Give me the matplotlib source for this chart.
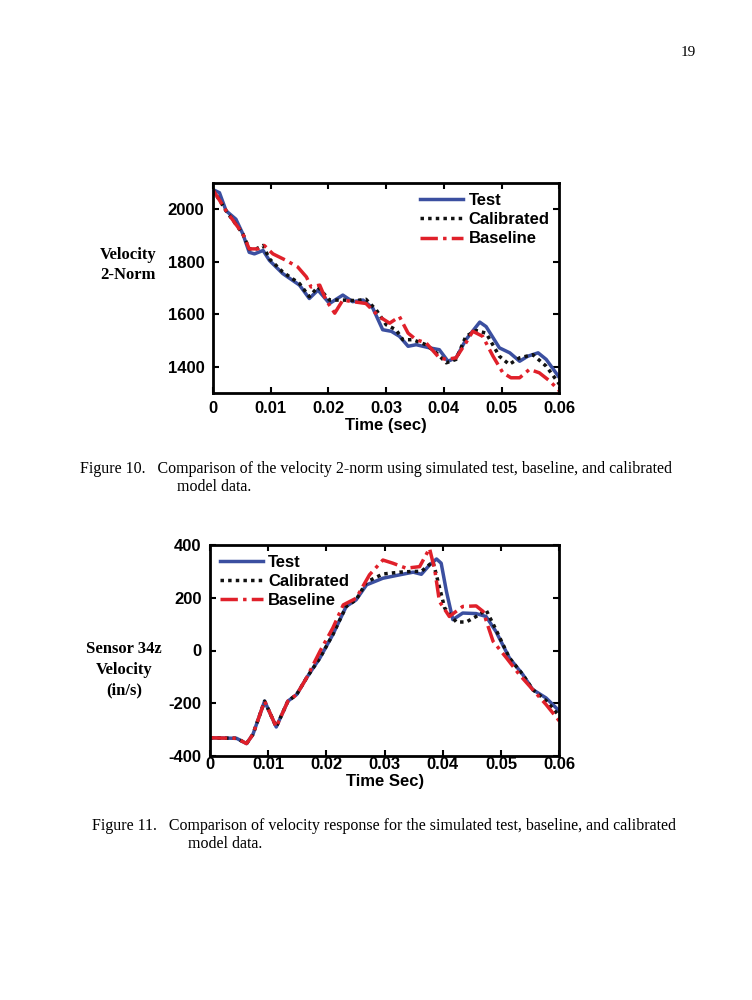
import matplotlib
matplotlib.use("Agg")
import matplotlib.pyplot as plt
plt.rcParams["axes.unicode_minus"] = False

# ---- Figure 10 data: velocity 2-norm ----
t1_test = [0,.00115,.0023,.004,.0052,.0063,.0072,.0087,.0098,.0121,.015,.0167,.0182,.0202,.0225,.0242,.026,.0277,.0294,.0309,.0323,.0338,.0352,.0375,.0392,.0407,.0421,.0438,.0462,.0473,.0496,.0514,.0531,.0545,.0563,.0577,.06]
v1_test = [2075,2063,1994,1962,1906,1836,1830,1843,1805,1755,1711,1660,1692,1641,1673,1648,1654,1623,1541,1535,1516,1478,1484,1472,1465,1421,1434,1503,1570,1553,1472,1453,1421,1440,1453,1428,1358]
t1_cal = [0,.0023,.0052,.0063,.0075,.0087,.0098,.0121,.015,.0167,.0182,.0202,.0225,.0248,.0265,.0283,.03,.0317,.0329,.0346,.0369,.0387,.0404,.0421,.0438,.0456,.0473,.0496,.0513,.0531,.0554,.0577,.06]
v1_cal = [2075,1994,1906,1849,1849,1862,1811,1761,1717,1667,1704,1654,1654,1652,1657,1616,1560,1541,1503,1503,1484,1453,1415,1428,1516,1538,1528,1440,1409,1434,1446,1402,1333]
t1_base = [0,.0023,.0052,.0063,.0078,.0089,.0104,.0127,.0147,.0162,.017,.0185,.0196,.0211,.0225,.0242,.0265,.0288,.0306,.0323,.0338,.0352,.0369,.0392,.0404,.0421,.0438,.045,.0467,.0485,.0502,.0516,.0531,.0548,.0565,.0583,.06]
v1_base = [2075,1994,1906,1849,1849,1862,1830,1805,1780,1742,1704,1711,1654,1604,1654,1648,1641,1591,1566,1591,1528,1503,1491,1434,1428,1434,1491,1535,1516,1440,1377,1358,1358,1390,1377,1346,1308]

# ---- Figure 11 data: sensor 34z velocity ----
t2_test = [0,.0046,.0063,.0074,.0094,.0114,.0134,.0149,.0166,.0189,.0211,.0234,.0251,.0269,.0297,.0326,.0349,.0363,.0377,.0389,.0397,.0406,.0417,.0434,.0457,.0474,.0491,.0514,.0537,.0554,.0577,.06]
v2_test = [-331,-333,-353,-318,-192,-290,-192,-167,-104,-28,60,167,192,249,274,287,297,289,324,347,331,224,117,142,140,129,72,-28,-91,-148,-180,-230]
t2_cal = [0,.0046,.0063,.0074,.0094,.0114,.0134,.0149,.0166,.0189,.0211,.0234,.0251,.0269,.0297,.0326,.0349,.0363,.0383,.0403,.0423,.044,.0457,.0474,.0491,.0514,.0537,.0554,.0577,.06]
v2_cal = [-331,-333,-353,-318,-192,-290,-192,-167,-104,-28,60,167,192,260,290,297,300,300,337,161,108,108,129,154,79,-28,-91,-148,-190,-249]
t2_base = [0,.0046,.0063,.0074,.0094,.0114,.0134,.0149,.0166,.0189,.0211,.0229,.0251,.0274,.0297,.0314,.0337,.036,.0377,.0386,.0394,.0411,.0434,.0457,.0469,.0486,.0509,.0531,.0554,.0577,.06]
v2_base = [-331,-333,-353,-318,-192,-290,-192,-167,-104,-3,85,173,198,287,343,331,312,318,387,306,186,129,167,169,148,35,-28,-91,-148,-205,-268]

labels = ["Test", "Calibrated", "Baseline"]
BLUE, BLACK, RED = "#3b4fa0", "#111111", "#e0202a"

fig = plt.figure(figsize=(7.52, 10), dpi=100)
sans = ["Liberation Sans", "DejaVu Sans"]
serif = ["Liberation Serif", "DejaVu Serif"]
FS = 12

def style(ax):
    for s in ax.spines.values():
        s.set_linewidth(2)
    ax.tick_params(direction="in", top=True, right=True, width=1.5, length=4, pad=6)
    for lab in ax.get_xticklabels() + ax.get_yticklabels():
        lab.set_fontfamily(sans); lab.set_fontweight("bold"); lab.set_fontsize(FS)

def draw(ax, tt, vt, tc, vc, tb, vb):
    ax.plot(tt, vt, color=BLUE, lw=2.5, label=labels[0])
    ax.plot(tc, vc, color=BLACK, lw=2.5, ls=(0, (1, 1.2)), label=labels[1])
    ax.plot(tb, vb, color=RED, lw=2.5, ls=(0, (5, 1.5, 1, 1.5)), label=labels[2])

lprop = {"family": sans, "weight": "bold", "size": FS}

ax1 = fig.add_axes([0.283, 0.607, 0.461, 0.21])
draw(ax1, t1_test, v1_test, t1_cal, v1_cal, t1_base, v1_base)
ax1.set_xlim(0, 0.06); ax1.set_ylim(1300, 2100)
ax1.set_xticks([0, .01, .02, .03, .04, .05, .06])
ax1.set_xticklabels(["0", "0.01", "0.02", "0.03", "0.04", "0.05", "0.06"])
ax1.set_yticks([1400, 1600, 1800, 2000])
style(ax1)
ax1.set_xlabel("Time (sec)", fontfamily=sans, fontweight="bold", fontsize=FS, labelpad=1)
ax1.legend(loc="upper right", frameon=False, prop=lprop,
           handlelength=2.6, borderaxespad=0.2, labelspacing=0.25, handletextpad=0.3)

ax2 = fig.add_axes([0.279, 0.244, 0.465, 0.211])
draw(ax2, t2_test, v2_test, t2_cal, v2_cal, t2_base, v2_base)
ax2.set_xlim(0, 0.06); ax2.set_ylim(-400, 400)
ax2.set_xticks([0, .01, .02, .03, .04, .05, .06])
ax2.set_xticklabels(["0", "0.01", "0.02", "0.03", "0.04", "0.05", "0.06"])
ax2.set_yticks([-400, -200, 0, 200, 400])
style(ax2)
ax2.tick_params(axis="x", pad=1)
ax2.set_xlabel("Time Sec)", fontfamily=sans, fontweight="bold", fontsize=FS, labelpad=1)
ax2.legend(loc="upper left", frameon=False, prop=lprop,
           handlelength=2.6, borderaxespad=0.2, labelspacing=0.25, handletextpad=0.3)

fig.text(0.17, 0.735, "Velocity\n2-Norm", ha="center", va="center", fontfamily=serif,
         fontweight="bold", fontsize=FS, linespacing=1.4)
fig.text(0.165, 0.33, "Sensor 34z\nVelocity\n(in/s)", ha="center", va="center", fontfamily=serif,
         fontweight="bold", fontsize=FS, linespacing=1.4)
fig.text(0.915, 0.948, "19", ha="center", va="center", fontfamily=serif, fontsize=11)
fig.text(0.107, 0.531, "Figure 10.   Comparison of the velocity 2-norm using simulated test, baseline, and calibrated",
         fontfamily=serif, fontsize=11.5, va="center")
fig.text(0.235, 0.513, "model data.", fontfamily=serif, fontsize=11.5, va="center")
fig.text(0.122, 0.174, "Figure 11.   Comparison of velocity response for the simulated test, baseline, and calibrated",
         fontfamily=serif, fontsize=11.5, va="center")
fig.text(0.25, 0.156, "model data.", fontfamily=serif, fontsize=11.5, va="center")

fig.savefig("out.png", dpi=100)
